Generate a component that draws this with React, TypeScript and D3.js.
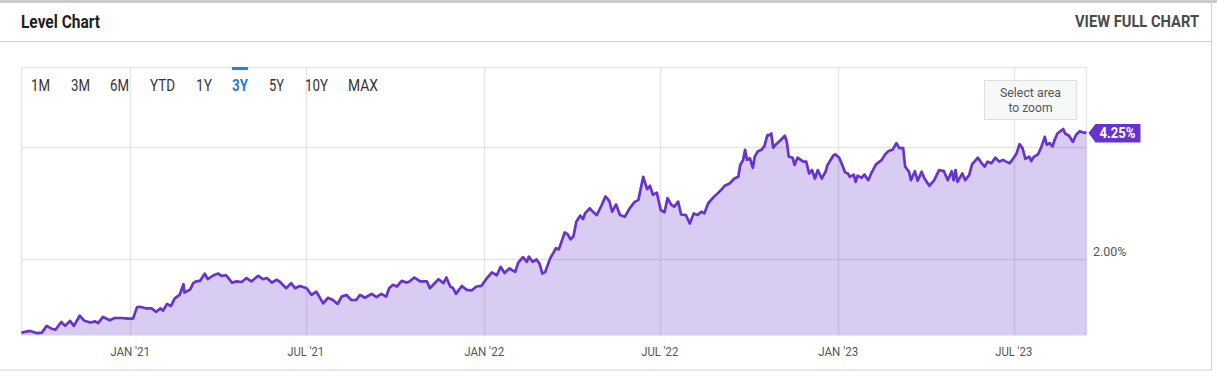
import React from "react";
import * as d3 from "d3";

const dates = [
  "2020-09-11","2020-09-20","2020-09-27","2020-10-02","2020-10-07","2020-10-12","2020-10-16","2020-10-22","2020-10-26","2020-10-31",
  "2020-11-04","2020-11-10","2020-11-15","2020-11-21","2020-11-26","2020-11-29","2020-12-04","2020-12-11","2020-12-16","2020-12-23",
  "2020-12-30","2021-01-04","2021-01-08","2021-01-11","2021-01-18","2021-01-23","2021-01-28","2021-02-01","2021-02-04","2021-02-08",
  "2021-02-12","2021-02-16","2021-02-21","2021-02-25","2021-02-26","2021-03-04","2021-03-07","2021-03-10","2021-03-14","2021-03-16",
  "2021-03-19","2021-03-22","2021-03-28","2021-04-02","2021-04-05","2021-04-10","2021-04-16","2021-04-21","2021-04-26","2021-05-01",
  "2021-05-06","2021-05-13","2021-05-18","2021-05-22","2021-05-27","2021-06-01","2021-06-04","2021-06-11","2021-06-16","2021-06-20",
  "2021-06-25","2021-07-02","2021-07-07","2021-07-12","2021-07-19","2021-07-24","2021-07-29","2021-08-03","2021-08-07","2021-08-12",
  "2021-08-17","2021-08-22","2021-08-26","2021-08-31","2021-09-07","2021-09-12","2021-09-17","2021-09-22","2021-09-25","2021-09-29",
  "2021-10-03","2021-10-08","2021-10-13","2021-10-16","2021-10-21","2021-10-27","2021-11-03","2021-11-06","2021-11-10","2021-11-15",
  "2021-11-20","2021-11-23","2021-11-27","2021-11-30","2021-12-03","2021-12-09","2021-12-14","2021-12-19","2021-12-24","2021-12-29",
  "2022-01-03","2022-01-09","2022-01-14","2022-01-18","2022-01-22","2022-01-27","2022-02-02","2022-02-05","2022-02-10","2022-02-14",
  "2022-02-16","2022-02-20","2022-02-24","2022-02-27","2022-03-02","2022-03-05","2022-03-10","2022-03-13","2022-03-16","2022-03-19",
  "2022-03-23","2022-03-25","2022-03-28","2022-03-31","2022-04-03","2022-04-06","2022-04-10","2022-04-13","2022-04-15","2022-04-20",
  "2022-04-23","2022-04-27","2022-05-02","2022-05-06","2022-05-10","2022-05-13","2022-05-17","2022-05-21","2022-05-26","2022-05-31",
  "2022-06-05","2022-06-09","2022-06-14","2022-06-18","2022-06-21","2022-06-24","2022-06-28","2022-07-02","2022-07-06","2022-07-09",
  "2022-07-13","2022-07-16","2022-07-20","2022-07-23","2022-07-28","2022-08-01","2022-08-05","2022-08-09","2022-08-13","2022-08-16",
  "2022-08-20","2022-08-25","2022-08-30","2022-09-03","2022-09-06","2022-09-11","2022-09-16","2022-09-20","2022-09-22","2022-09-25",
  "2022-09-27","2022-09-29","2022-10-02","2022-10-05","2022-10-07","2022-10-10","2022-10-14","2022-10-17","2022-10-20","2022-10-22",
  "2022-10-24","2022-10-26","2022-10-29","2022-11-02","2022-11-07","2022-11-09","2022-11-11","2022-11-15","2022-11-17","2022-11-20",
  "2022-11-26","2022-11-29","2022-12-02","2022-12-05","2022-12-08","2022-12-11","2022-12-15","2022-12-19","2022-12-21","2022-12-27",
  "2022-12-29","2023-01-02","2023-01-05","2023-01-08","2023-01-11","2023-01-13","2023-01-17","2023-01-19","2023-01-21","2023-01-25",
  "2023-01-28","2023-02-01","2023-02-04","2023-02-09","2023-02-15","2023-02-18","2023-02-22","2023-02-26","2023-03-02","2023-03-05",
  "2023-03-09","2023-03-11","2023-03-15","2023-03-17","2023-03-21","2023-03-24","2023-03-28","2023-03-31","2023-04-05","2023-04-10",
  "2023-04-15","2023-04-20","2023-04-24","2023-04-28","2023-04-30","2023-05-02","2023-05-04","2023-05-09","2023-05-12","2023-05-16",
  "2023-05-19","2023-05-25","2023-05-29","2023-06-01","2023-06-04","2023-06-08","2023-06-12","2023-06-16","2023-06-20","2023-06-23",
  "2023-06-27","2023-07-01","2023-07-04","2023-07-07","2023-07-10","2023-07-13","2023-07-17","2023-07-19","2023-07-22","2023-07-26",
  "2023-07-29","2023-08-02","2023-08-04","2023-08-07","2023-08-10","2023-08-12","2023-08-15","2023-08-21","2023-08-23","2023-08-27",
  "2023-08-31","2023-09-03","2023-09-07","2023-09-10","2023-09-14",
];

const values = [
  0.70,0.73,0.69,0.70,0.82,0.77,0.75,0.89,0.82,0.91,
  0.82,1.00,0.91,0.88,0.90,0.87,0.98,0.92,0.96,0.96,
  0.95,0.95,1.15,1.16,1.13,1.13,1.07,1.13,1.09,1.21,
  1.17,1.31,1.37,1.56,1.41,1.47,1.58,1.61,1.62,1.67,
  1.75,1.65,1.72,1.75,1.71,1.72,1.59,1.61,1.60,1.67,
  1.61,1.71,1.65,1.67,1.59,1.64,1.61,1.49,1.58,1.49,
  1.53,1.49,1.37,1.43,1.22,1.32,1.28,1.21,1.34,1.37,
  1.28,1.28,1.37,1.32,1.39,1.33,1.39,1.34,1.49,1.55,
  1.52,1.62,1.59,1.61,1.68,1.61,1.61,1.49,1.56,1.65,
  1.58,1.68,1.52,1.49,1.39,1.53,1.46,1.45,1.52,1.53,
  1.65,1.77,1.72,1.87,1.76,1.84,1.78,1.94,2.04,1.96,
  2.05,1.96,2.00,1.93,1.75,1.78,2.02,2.11,2.20,2.18,
  2.38,2.48,2.45,2.36,2.41,2.67,2.78,2.72,2.82,2.91,
  2.85,2.79,2.96,3.12,3.04,2.85,2.98,2.79,2.76,2.91,
  3.02,3.06,3.47,3.25,3.31,3.15,3.19,2.88,2.84,3.09,
  2.97,2.94,3.03,2.80,2.79,2.64,2.82,2.79,2.85,2.82,
  3.00,3.10,3.18,3.25,3.31,3.35,3.44,3.47,3.68,3.77,
  3.95,3.77,3.80,3.63,3.83,3.92,3.95,4.02,4.21,4.21,
  4.24,3.99,4.05,4.11,4.20,4.09,3.83,3.81,3.68,3.81,
  3.74,3.74,3.53,3.59,3.44,3.59,3.44,3.56,3.68,3.85,
  3.87,3.81,3.69,3.55,3.53,3.47,3.51,3.38,3.49,3.45,
  3.51,3.41,3.53,3.69,3.77,3.86,3.93,3.95,4.07,3.98,
  3.98,3.65,3.56,3.41,3.57,3.40,3.56,3.44,3.31,3.41,
  3.59,3.57,3.41,3.57,3.41,3.59,3.38,3.53,3.41,3.50,
  3.69,3.81,3.71,3.65,3.74,3.71,3.81,3.74,3.77,3.74,
  3.71,3.81,3.89,4.05,3.98,3.79,3.83,3.75,3.83,3.87,
  3.98,4.18,4.04,4.07,4.01,4.12,4.24,4.32,4.24,4.20,
  4.09,4.21,4.28,4.26,4.25,
];

const xDomain = ["2020-09-11", "2023-09-14"];
const yDomain = [0.649, 5.413];
const xTickDates = ["2021-01-01", "2021-07-01", "2022-01-01", "2022-07-01", "2023-01-01", "2023-07-01"];
const xTickLabels = ["JAN '21", "JUL '21", "JAN '22", "JUL '22", "JAN '23", "JUL '23"];
const yGridValues = [2, 4];
const yTickLabels = ["2.00%"];
const rangeButtons = ["1M", "3M", "6M", "YTD", "1Y", "3Y", "5Y", "10Y", "MAX"];
const activeRange = "3Y";
const lastLabel = "4.25%";
const title = "Level Chart";
const linkText = "VIEW FULL CHART";
const zoomHint = ["Select area", "to zoom"];

const FONT = "Roboto, 'Noto Sans', sans-serif";
const PURPLE = "#6633cc";

export default function App() {
  const W = 1217, H = 381;
  const parse = d3.timeParse("%Y-%m-%d");
  const data = dates.map((d, i) => ({ date: parse(d) as Date, value: values[i] }));
  const plot = { left: 21.5, right: 1086.5, top: 67.5, bottom: 335.5 };

  const x = d3.scaleTime()
    .domain([parse(xDomain[0]) as Date, parse(xDomain[1]) as Date])
    .range([plot.left, plot.right]);
  const y = d3.scaleLinear().domain(yDomain).range([plot.bottom, plot.top]);

  const lineGen = d3.line<{ date: Date; value: number }>()
    .x(d => x(d.date)).y(d => y(d.value));
  const areaGen = d3.area<{ date: Date; value: number }>()
    .x(d => x(d.date)).y0(plot.bottom).y1(d => y(d.value));

  const btnLayout = [
    [31, 19], [71, 19], [110, 19], [150, 25], [196, 16], [232, 16], [269, 15], [305, 23], [348, 30],
  ];

  const last = data[data.length - 1];
  const ly = y(last.value);
  const lx = x(last.date) + 2;

  return (
    <svg width={W} height={H} style={{ position: "absolute", left: 0, top: 0, background: "#fff" }} fontFamily={FONT}>
      {/* outer frame */}
      <rect x={0} y={0} width={W} height={3} fill="#cccccc" />
      <line x1={0} x2={1211.5} y1={41.5} y2={41.5} stroke="#d3d3d3" />
      <line x1={1211.5} x2={1211.5} y1={3} y2={370.5} stroke="#d3d3d3" />
      <line x1={0} x2={1211.5} y1={370} y2={370} stroke="#d3d3d3" />

      <text x={21} y={28} fontSize={18} fontWeight={700} fill="#1f1f1f" textLength={79} lengthAdjust="spacingAndGlyphs">{title}</text>
      <text x={1075} y={27} fontSize={16} fontWeight={700} fill="#4a4a4a" textLength={124} lengthAdjust="spacingAndGlyphs">{linkText}</text>

      {/* grid */}
      {yGridValues.map(v => (
        <line key={"gy" + v} x1={plot.left} x2={plot.right} y1={Math.round(y(v)) + 0.5} y2={Math.round(y(v)) + 0.5} stroke="#e6e6e6" strokeWidth={1.5} />
      ))}
      {xTickDates.map(d => {
        const xx = Math.round(x(parse(d) as Date)) + 0.5;
        return <line key={"gx" + d} x1={xx} x2={xx} y1={plot.top} y2={plot.bottom} stroke="#e6e6e6" strokeWidth={1.5} />;
      })}
      <path d={`M${plot.left},${plot.bottom}V${plot.top}H${plot.right}V${plot.bottom}`} fill="none" stroke="#e6e6e6" strokeWidth={1.5} />

      {/* series */}
      <path d={areaGen(data) || ""} fill={PURPLE} fillOpacity={0.25} />
      <path d={lineGen(data) || ""} fill="none" stroke={PURPLE} strokeWidth={2.7} strokeLinejoin="round" />

      {/* x labels */}
      {xTickDates.map((d, i) => (
        <text key={"xl" + d} x={x(parse(d) as Date)} y={355.5} fontSize={13.5} fill="#555" textAnchor="middle"
          textLength={xTickLabels[i].startsWith("JAN") ? 40 : 37} lengthAdjust="spacingAndGlyphs">{xTickLabels[i]}</text>
      ))}

      {/* y label */}
      {yTickLabels.map((t, i) => (
        <text key={"yl" + t} x={1093} y={y(yGridValues[i]) - 3} fontSize={12.5} fill="#555">{t}</text>
      ))}

      {/* range buttons */}
      {rangeButtons.map((b, i) => (
        <text key={b} x={btnLayout[i][0]} y={91} fontSize={16} fill={b === activeRange ? "#1a7fd4" : "#333"}
          fontWeight={b === activeRange ? 700 : 400}
          textLength={btnLayout[i][1]} lengthAdjust="spacingAndGlyphs">{b}</text>
      ))}
      {rangeButtons.map((b, i) => b === activeRange ? (
        <rect key={"bar" + b} x={btnLayout[i][0]} y={67} width={btnLayout[i][1]} height={3} fill="#1a88e0" />
      ) : null)}

      {/* zoom hint */}
      <rect x={984.5} y={80.5} width={92} height={39} fill="#f6f7f7" stroke="#dedede" />
      <text x={1030.5} y={97} fontSize={13.5} fill="#555" textAnchor="middle" textLength={61} lengthAdjust="spacingAndGlyphs">{zoomHint[0]}</text>
      <text x={1030.5} y={112} fontSize={13.5} fill="#555" textAnchor="middle" textLength={44} lengthAdjust="spacingAndGlyphs">{zoomHint[1]}</text>

      {/* last value marker */}
      <path d={`M${lx},${ly}L${lx + 7},${ly - 9}H${lx + 52}V${ly + 9.5}H${lx + 7}Z`} fill={PURPLE} />
      <text x={lx + 29} y={ly + 5} fontSize={14} fontWeight={700} fill="#fff" textAnchor="middle" textLength={36} lengthAdjust="spacingAndGlyphs">{lastLabel}</text>
    </svg>
  );
}
